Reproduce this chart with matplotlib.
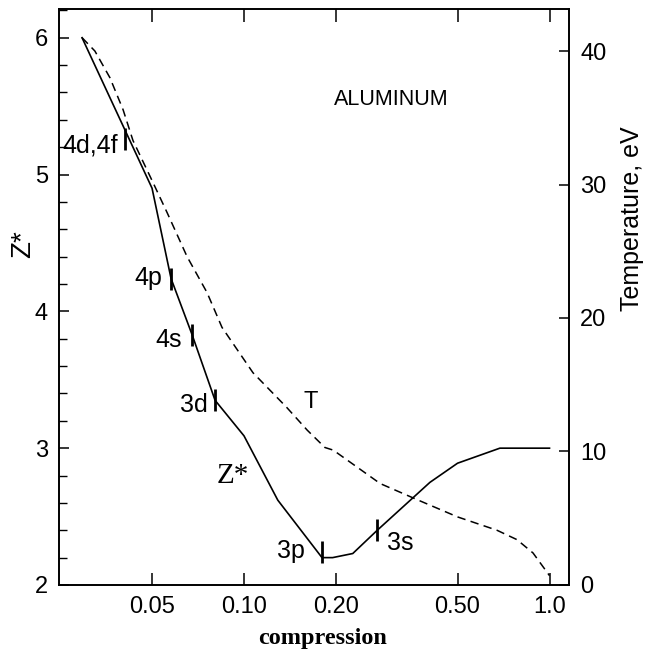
import matplotlib
matplotlib.use("Agg")
import matplotlib.pyplot as plt
from matplotlib.ticker import MultipleLocator, NullLocator, FixedLocator, FixedFormatter

plt.rcParams['font.family'] = ['Liberation Sans', 'DejaVu Sans']

# ---- data ----
z_x = [0.0295, 0.05, 0.0577, 0.0676, 0.0804, 0.1, 0.129, 0.18, 0.195, 0.227, 0.273, 0.406, 0.5, 0.688, 1.0]
z_val = [6.0, 4.90, 4.24, 3.83, 3.35, 3.09, 2.62, 2.20, 2.20, 2.23, 2.40, 2.75, 2.89, 3.00, 3.00]

t_x = [0.0295, 0.0325, 0.0364, 0.0402, 0.0433, 0.05, 0.056, 0.0651, 0.0757, 0.0847,
       0.107, 0.138, 0.161, 0.184, 0.196, 0.279, 0.368, 0.5, 0.673, 0.782, 0.883, 1.0]
t_val = [41.0, 40.0, 38.0, 35.6, 33.3, 30.3, 27.9, 24.6, 21.9, 19.3,
         15.9, 13.3, 11.6, 10.3, 10.1, 7.6, 6.4, 5.1, 4.1, 3.4, 2.4, 0.7]

mark_labels = ["4d,4f", "4p", "4s", "3d", "3p", "3s"]
mark_x = [0.0408, 0.0577, 0.0676, 0.0804, 0.1796, 0.273]
mark_z = [5.26, 4.24, 3.83, 3.35, 2.24, 2.40]

x_ticks = [0.05, 0.10, 0.20, 0.50, 1.0]
x_tick_labels = ["0.05", "0.10", "0.20", "0.50", "1.0"]
z_ticks = [2, 3, 4, 5, 6]
t_ticks = [0, 10, 20, 30, 40]

# ---- figure ----
fig = plt.figure(figsize=(6.47, 6.64), dpi=100)
ax = fig.add_axes([0.0912, 0.119, 0.7882, 0.8675])
ax2 = ax.twinx()

ax.set_xscale('log')
ax.set_xlim(0.0248, 1.158)
ax.set_ylim(2.0, 6.21)
ax2.set_ylim(0, 43.15)

ax.plot(z_x, z_val, color='black', lw=1.2)
ax2.plot(t_x, t_val, color='black', lw=1.1, ls=(0, (5.5, 3.5)))
ax.plot(mark_x, mark_z, ls='none', marker='|', ms=16, mew=2.0, color='black')

offsets = [(-5, -10, 'left'), (-6.5, -5, 'left'), (-7, -8.6, 'left'),
           (-5, -8.6, 'left'), (-12, -4.3, 'left'), (7, -14, 'right')]
for lab, mx, mz, (dx, dy, side) in zip(mark_labels, mark_x, mark_z, offsets):
    ax.annotate(lab, (mx, mz), xytext=(dx, dy), textcoords='offset points',
                ha='right' if side == 'left' else 'left', va='baseline', fontsize=18)

ax.text(0.651, 0.842, "ALUMINUM", transform=ax.transAxes, ha='center', va='center', fontsize=15.5)
ax.text(0.4935, 0.318, "T", transform=ax.transAxes, ha='center', va='center', fontsize=17)
ax.text(0.3406, 0.189, "Z*", transform=ax.transAxes, ha='center', va='center', fontsize=21,
        family=['Liberation Serif', 'DejaVu Serif'])

fig.text(0.0355, 0.6325, "Z*", rotation=90, ha='center', va='center', fontsize=20)
fig.text(0.977, 0.670, "Temperature, eV", rotation=90, ha='center', va='center', fontsize=18)
fig.text(0.499, 0.039, "compression", ha='center', va='center', fontsize=17.5, fontweight='bold',
         family=['Liberation Serif', 'DejaVu Serif'])

# ticks
ax.xaxis.set_major_locator(FixedLocator(x_ticks))
ax.xaxis.set_major_formatter(FixedFormatter(x_tick_labels))
ax.xaxis.set_minor_locator(NullLocator())
ax.set_yticks(z_ticks)
ax.yaxis.set_minor_locator(MultipleLocator(0.2))
ax2.set_yticks(t_ticks)

ax.tick_params(axis='x', which='major', direction='in', top=True, length=9, width=1.1, pad=8, labelsize=17)
ax.tick_params(axis='y', which='major', direction='in', length=7, width=1.1, pad=8, labelsize=17)
ax.tick_params(axis='y', which='minor', direction='in', length=6, width=1.0)
ax2.tick_params(axis='y', which='major', direction='in', length=7, width=1.1, pad=8, labelsize=17)

for a in (ax, ax2):
    for s in a.spines.values():
        s.set_linewidth(1.2)

fig.savefig("out.png", dpi=100)
